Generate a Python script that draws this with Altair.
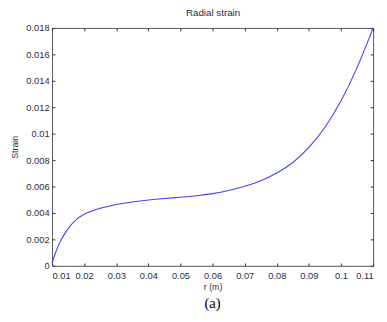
import altair as alt
import pandas as pd

r_vals = [0.01, 0.011, 0.012, 0.014, 0.016, 0.018, 0.02, 0.022, 0.025, 0.03,
          0.035, 0.04, 0.045, 0.05, 0.055, 0.06, 0.065, 0.07, 0.075, 0.08,
          0.085, 0.09, 0.095, 0.1, 0.105, 0.11]
strain_vals = [0.0002, 0.00095, 0.0016, 0.0025, 0.00315, 0.00362, 0.00393, 0.00412,
               0.00436, 0.00465, 0.00484, 0.00498, 0.00509, 0.00519, 0.0053, 0.00545,
               0.00568, 0.0060, 0.00642, 0.0070, 0.00775, 0.0089, 0.0104, 0.0124,
               0.0149, 0.0180]
x_ticks = [0.01, 0.02, 0.03, 0.04, 0.05, 0.06, 0.07, 0.08, 0.09, 0.1, 0.11]
y_ticks = [0, 0.002, 0.004, 0.006, 0.008, 0.01, 0.012, 0.014, 0.016, 0.018]

df = pd.DataFrame({"r": r_vals, "strain": strain_vals})

FONT = "Liberation Sans"
LABEL_COLOR = "#2b2b45"

xscale = alt.Scale(domain=[0.01, 0.11], nice=False, zero=False)
yscale = alt.Scale(domain=[0, 0.018], nice=False, zero=False)

main = alt.Chart(df).mark_line(color="#4040ff", strokeWidth=1.1, interpolate="basis").encode(
    x=alt.X("r:Q", scale=xscale,
            axis=alt.Axis(orient="bottom", values=x_ticks, format="~g", offset=-3,
                          tickSize=3, domain=False, labelPadding=5, grid=False,
                          title="r (m)", titlePadding=3, titleFontSize=9,
                          titleFontWeight="normal")),
    y=alt.Y("strain:Q", scale=yscale,
            axis=alt.Axis(orient="left", values=y_ticks, format="~g", offset=-3,
                          tickSize=3, domain=False, labelPadding=3, grid=False,
                          title="Strain", titlePadding=7, titleFontSize=9,
                          titleFontWeight="normal")),
)

frame_ticks = alt.Chart(df).mark_line(opacity=0).encode(
    x=alt.X("r:Q", scale=xscale,
            axis=alt.Axis(orient="top", values=x_ticks, offset=-3, tickSize=3,
                          domain=False, labels=False, grid=False,
                          title="Radial strain", titlePadding=10, titleFontSize=10,
                          titleFontWeight="normal")),
    y=alt.Y("strain:Q", scale=yscale,
            axis=alt.Axis(orient="right", values=y_ticks, offset=-3, tickSize=3,
                          domain=False, labels=False, grid=False, title=None)),
)

chart = alt.layer(main, frame_ticks).properties(
    width=328, height=243,
    title=alt.TitleParams("(a)", orient="bottom", font="Liberation Serif",
                          fontSize=15, fontWeight="normal", color="#000000", offset=5),
    padding={"left": 45, "top": 17, "right": 6, "bottom": 54},
    autosize=alt.AutoSizeParams(type="none"),
).configure_view(
    stroke="#555555", strokeWidth=1
).configure_axis(
    labelFont=FONT, titleFont=FONT, labelFontSize=9.5, labelColor=LABEL_COLOR,
    titleColor=LABEL_COLOR, tickColor="#333333", tickWidth=1
)

chart.save("out.html", embed_options={"renderer": "svg", "actions": False})
